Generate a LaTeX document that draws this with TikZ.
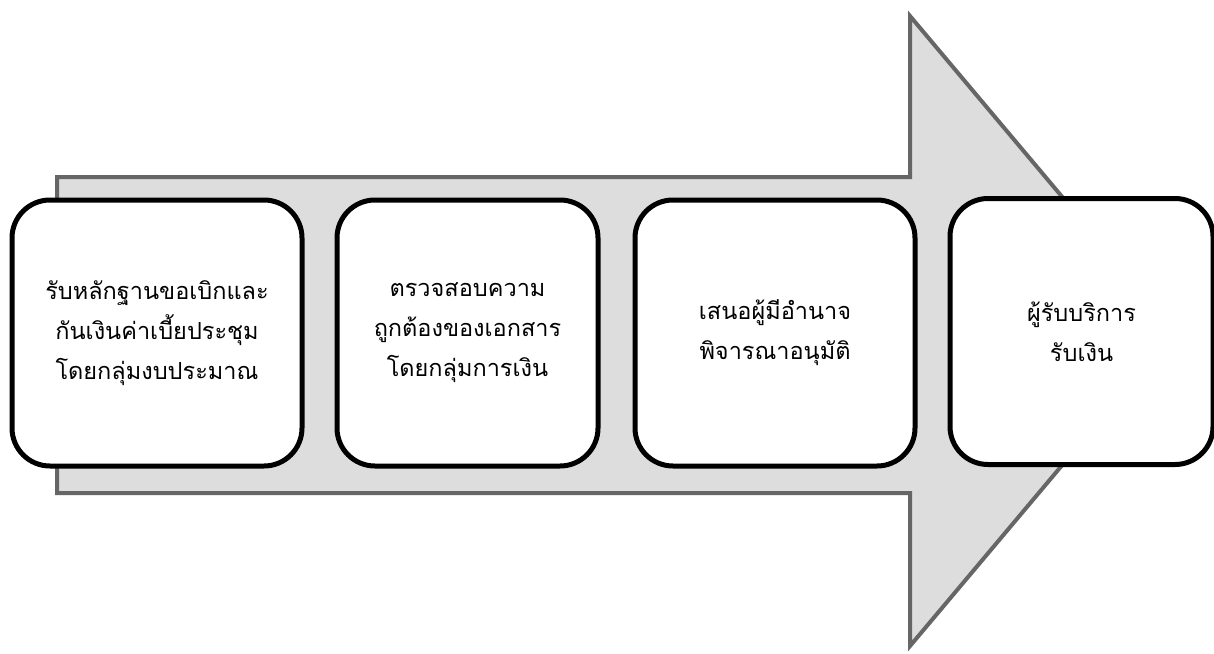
\documentclass[tikz,border=0pt]{standalone}
\usepackage{fontspec}
\newfontfamily\thaifont[Script=Thai]{Loma}
\definecolor{arrowline}{HTML}{666666}
\definecolor{arrowfill}{HTML}{DDDDDD}
\tikzset{
  stepbox/.style={draw=black, line width=5pt, fill=white, rounded corners=38pt,
    minimum height=266pt, align=center, inner sep=0pt,
    font=\thaifont\fontsize{23.5}{40}\selectfont},
}
\begin{document}
\begin{tikzpicture}[x=1pt,y=-1pt]
\useasboundingbox (0,0) rectangle (1214,653);
\clip (0,0) rectangle (1214,653);
\fill[white] (0,0) rectangle (1214,653);
% big arrow
\draw[draw=arrowline, fill=arrowfill, line width=4pt, line join=miter]
  (57,177) -- (910,177) -- (910,16) -- (1175,331) -- (910,646) -- (910,493) -- (57,493) -- cycle;
% steps
\node[stepbox, minimum width=290pt] (s1) at (157,333)
  {รับหลักฐานขอเบิกและ\\กันเงินค่าเบี้ยประชุม\\โดยกลุ่มงบประมาณ};
\node[stepbox, minimum width=261pt] (s2) at (467.5,333)
  {ตรวจสอบความ\\ถูกต้องของเอกสาร\\โดยกลุ่มการเงิน};
\node[stepbox, minimum width=280pt] (s3) at (775,333)
  {เสนอผู้มีอำนาจ\\พิจารณาอนุมัติ};
\node[stepbox, minimum width=263pt] (s4) at (1081.5,331.5)
  {ผู้รับบริการ\\รับเงิน};
\end{tikzpicture}
\end{document}
